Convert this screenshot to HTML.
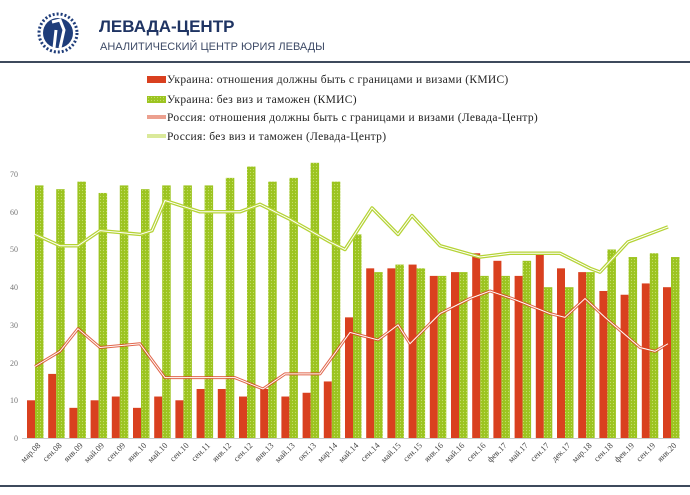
<!DOCTYPE html>
<html><head><meta charset="utf-8"><style>
body{margin:0;width:690px;height:490px;background:#fff;overflow:hidden;font-family:"Liberation Sans",sans-serif}
</style></head><body>
<svg id="svg" width="690" height="490" xmlns="http://www.w3.org/2000/svg" font-family="Liberation Sans, sans-serif">
<defs><pattern id="dots" width="3" height="3" patternUnits="userSpaceOnUse"><rect width="3" height="3" fill="#9cc420"/><circle cx="1.5" cy="1.5" r="0.6" fill="#c4de6a"/></pattern></defs>
<circle cx="58" cy="33" r="19" fill="none" stroke="#1f3d7a" stroke-width="3" stroke-dasharray="2 2"/>
<circle cx="58" cy="33" r="15" fill="#1f3d7a"/>
<path d="M52 22 L60 20 L64 30 L60 48 M56 30 L54 48" stroke="#fff" stroke-width="3" fill="none"/>
<text x="99" y="32" font-size="17" font-weight="bold" fill="#1f3463">ЛЕВАДА-ЦЕНТР</text>
<text x="100" y="50" font-size="11" fill="#3d4a66">АНАЛИТИЧЕСКИЙ ЦЕНТР ЮРИЯ ЛЕВАДЫ</text>
<rect x="0" y="61" width="690" height="2" fill="#3d4a5c"/>
<rect x="0" y="485" width="690" height="2" fill="#3d4a5c"/>
<g font-size="11.5" fill="#222" font-family="Liberation Serif, serif" letter-spacing="0.3">
<rect x="147" y="76" width="19" height="7" fill="#d9401f"/><text x="167" y="83">Украина: отношения должны быть с границами и визами (КМИС)</text>
<rect x="147" y="96" width="19" height="7" fill="url(#dots)"/><text x="167" y="103">Украина: без виз и таможен (КМИС)</text>
<line x1="147" y1="117" x2="166" y2="117" stroke="#d9401f" stroke-width="3"/><line x1="147" y1="117" x2="166" y2="117" stroke="#fff" stroke-width="1"/><text x="167" y="121">Россия: отношения должны быть с границами и визами (Левада-Центр)</text>
<line x1="147" y1="136" x2="166" y2="136" stroke="#b5d335" stroke-width="3"/><line x1="147" y1="136" x2="166" y2="136" stroke="#fff" stroke-width="1"/><text x="167" y="140">Россия: без виз и таможен (Левада-Центр)</text>
</g>
<g font-size="8" fill="#777" text-anchor="end" font-family="Liberation Serif, serif">
<text x="18" y="441">0</text><text x="18" y="403">10</text><text x="18" y="366">20</text><text x="18" y="328">30</text><text x="18" y="290">40</text><text x="18" y="252">50</text><text x="18" y="215">60</text><text x="18" y="177">70</text>
</g>
<line x1="22" y1="438.5" x2="680" y2="438.5" stroke="#ccc"/>
<g id="bars"></g>
<g id="labels" font-size="8.5" fill="#444" font-family="Liberation Serif, serif"></g>
<path id="rg1" fill="none" stroke="#b5d335" stroke-width="3.5" stroke-linejoin="round"/>
<path id="rg2" fill="none" stroke="#fff" stroke-width="1"/>
<path id="rr1" fill="none" stroke="#d9401f" stroke-width="3" stroke-linejoin="round" opacity="0.8"/>
<path id="rr2" fill="none" stroke="#fff" stroke-width="1"/>
<script>
var NS="http://www.w3.org/2000/svg";
var R=[10,17,8,10,11,8,11,10,13,13,11,13,11,12,15,32,45,45,46,43,44,49,47,43,49,45,44,39,38,41,40];
var G=[67,66,68,65,67,66,67,67,67,69,72,68,69,73,68,54,44,46,45,43,44,43,43,47,40,40,44,50,48,49,48];
var L=["мар.08","сен.08","янв.09","май.09","сен.09","янв.10","май.10","сен.10","сен.11","янв.12","сен.12","янв.13","май.13","окт.13","мар.14","май.14","сен.14","май.15","сен.15","янв.16","май.16","сен.16","фев.17","май.17","сен.17","дек.17","мар.18","сен.18","фев.19","сен.19","янв.20"];
function Y(v){return 438-v*3.77}
function el(tag,attrs,parent,txt){var e=document.createElementNS(NS,tag);for(var k in attrs)e.setAttribute(k,attrs[k]);if(txt)e.textContent=txt;parent.appendChild(e);return e;}
var bg=document.getElementById('bars'),lg=document.getElementById('labels');
for(var i=0;i<31;i++){var x=27+i*21.2;
el('rect',{x:x,y:Y(R[i]),width:8,height:R[i]*3.77,fill:'#d9401f'},bg);
el('rect',{x:x+8,y:Y(G[i]),width:8.5,height:G[i]*3.77,fill:'url(#dots)'},bg);
el('text',{transform:'translate('+(x+14)+',446) rotate(-45)','text-anchor':'end'},lg,L[i]);}
var gp=[[35,54],[60,51],[78,51],[100,55],[140,54],[152,55],[165,63],[200,60],[240,60],[260,62],[290,58],[330,52],[345,50],[372,61],[398,54],[412,59],[440,51],[480,48],[510,49],[560,49],[590,45],[600,44],[628,52],[668,56]];
var rp=[[35,19],[60,23],[78,29],[100,24],[140,25],[165,16],[235,16],[263,13],[285,17],[320,17],[350,28],[378,26],[398,30],[410,25],[440,33],[470,37],[490,39],[512,37],[550,33],[565,32],[585,37],[605,32],[640,24],[655,23],[668,25]];
function P(a){return a.map(function(p,i){return (i?'L':'M')+p[0]+' '+Y(p[1])}).join(' ')}
['rg1','rg2'].forEach(function(id){document.getElementById(id).setAttribute('d',P(gp))});
['rr1','rr2'].forEach(function(id){document.getElementById(id).setAttribute('d',P(rp))});
</script>
</svg>
</body></html>
